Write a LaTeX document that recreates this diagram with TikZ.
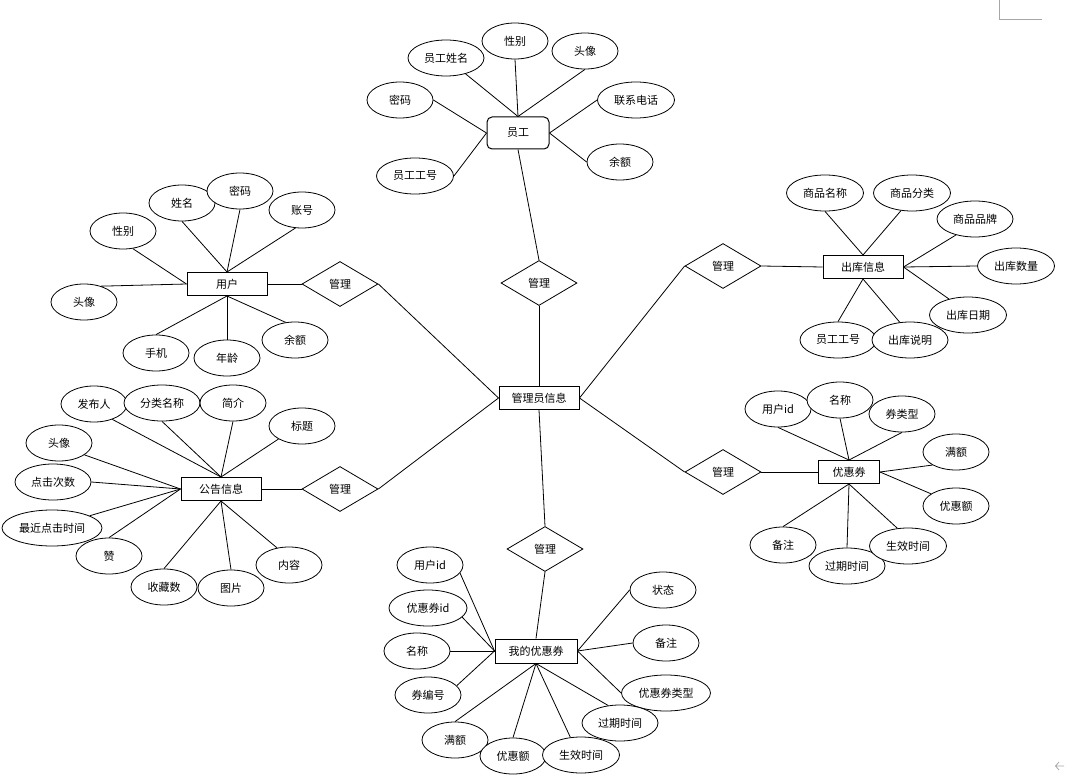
\documentclass[tikz,border=0pt]{standalone}
\usepackage{fontspec}
\setmainfont{Noto Sans CJK SC}
\usetikzlibrary{shapes.geometric}
\begin{document}
\begin{tikzpicture}
[   x=1pt,y=-1pt,line width=0.8pt,
    every node/.style={font=\fontsize{11}{13}\selectfont},
    ent/.style={draw=black,fill=white,line width=1pt,rectangle,minimum width=#1,minimum height=23,inner sep=0pt},
    ent/.default=80,
    attr/.style={draw=black,fill=white,ellipse,minimum width=#1,minimum height=36,inner sep=0pt},
    attr/.default=66,
    rel/.style={draw=black,fill=white,diamond,minimum width=76,minimum height=45,inner sep=0pt},
]
    \useasboundingbox (0,0) rectangle (1065,778);
    % entities
    \node[ent] (admin) at (539,398) {管理员信息};
    \node[ent=62,minimum height=32,rounded corners=5pt] (yg) at (518,133) {员工};
    \node[ent] (yh) at (227,284) {用户};
    \node[ent] (gg) at (221,489) {公告信息};
    \node[ent] (ck) at (863,267) {出库信息};
    \node[ent=61] (yhq) at (849,472) {优惠券};
    \node[ent=82,minimum height=24] (wd) at (536,651) {我的优惠券};
    % relations
    \node[rel] (r-yg) at (539,283) {管理};
    \node[rel] (r-yh) at (340,284) {管理};
    \node[rel] (r-gg) at (340,489) {管理};
    \node[rel] (r-ck) at (723,266) {管理};
    \node[rel] (r-yhq) at (723,472) {管理};
    \node[rel] (r-wd) at (545,549) {管理};
    \draw (yg.south) -- (r-yg.north);
    \draw (r-yg.south) -- (admin.north);
    \draw (yh.east) -- (r-yh.west);
    \draw (r-yh.east) -- (admin.west);
    \draw (gg.east) -- (r-gg.west);
    \draw (r-gg.east) -- (admin.west);
    \draw (admin.east) -- (r-ck.west);
    \draw (r-ck.east) -- (ck.west);
    \draw (admin.east) -- (r-yhq.west);
    \draw (r-yhq.east) -- (yhq.west);
    \draw (admin.south) -- (r-wd.north);
    \draw (r-wd.south) -- (wd.north);
    % attributes: name/position/text/width/own anchor/entity anchor
    \foreach \nm/\pos/\txt/\w/\sa/\anc in
    {   yg-1/{446,58}/员工姓名/76/-39/north,
        yg-2/{515,41}/性别/66/south/north,
        yg-3/{585,51}/头像/66/south/north,
        yg-4/{400,100}/密码/66/east/west,
        yg-5/{415,176}/员工工号/77/east/west,
        yg-6/{636,100}/联系电话/77/west/east,
        yg-7/{620,162}/余额/66/west/east}
    {   \node[attr=\w] (\nm) at (\pos) {\txt};
        \draw (\nm.\sa) -- (yg.\anc);
    }
    \foreach \nm/\pos/\txt/\w/\sa/\anc in
    {   yh-1/{182,203}/姓名/66/south/north,
        yh-2/{240,191}/密码/66/south/north,
        yh-3/{302,210}/账号/66/-110/north,
        yh-4/{123,231}/性别/66/-61/west,
        yh-5/{84,302}/头像/66/43/west,
        yh-6/{156,353}/手机/66/north/south,
        yh-7/{227,358}/年龄/66/north/south,
        yh-8/{295,340}/余额/66/118/south}
    {   \node[attr=\w] (\nm) at (\pos) {\txt};
        \draw (\nm.\sa) -- (yh.\anc);
    }
    \foreach \nm/\pos/\txt/\w/\sa/\anc in
    {   gg-1/{94,404}/发布人/66/-40/north,
        gg-2/{162,403}/分类名称/76/south/north,
        gg-3/{233,403}/简介/66/south/north,
        gg-4/{302,426}/标题/66/-151/north,
        gg-5/{59,443}/头像/66/-25/west,
        gg-6/{53,482}/点击次数/76/east/west,
        gg-7/{52,528}/最近点击时间/100/18/west,
        gg-8/{109,556}/赞/66/north/west,
        gg-9/{164,587}/收藏数/66/north/south,
        gg-10/{231,588}/图片/66/north/south,
        gg-11/{289,565}/内容/66/125/south}
    {   \node[attr=\w] (\nm) at (\pos) {\txt};
        \draw (\nm.\sa) -- (gg.\anc);
    }
    \foreach \nm/\pos/\txt/\w/\sa/\anc in
    {   ck-1/{825,193}/商品名称/77/south/north,
        ck-2/{912,193}/商品分类/77/-122/north,
        ck-3/{975,219}/商品品牌/76/-140/east,
        ck-4/{1016,266}/出库数量/77/west/east,
        ck-5/{968,315}/出库日期/77/140/east,
        ck-6/{838,340}/员工工号/76/north/south,
        ck-7/{910,340}/出库说明/76/120/south}
    {   \node[attr=\w] (\nm) at (\pos) {\txt};
        \draw (\nm.\sa) -- (ck.\anc);
    }
    \foreach \nm/\pos/\txt/\w/\sa/\anc in
    {   yhq-1/{778,409}/用户id/66/south/north,
        yhq-2/{840,400}/名称/66/south/north,
        yhq-3/{902,414}/券类型/66/south/north,
        yhq-4/{956,452}/满额/66/-151/east,
        yhq-5/{956,506}/优惠额/66/154/east,
        yhq-6/{783,545}/备注/66/north/south,
        yhq-7/{847,566}/过期时间/76/north/south,
        yhq-8/{908,546}/生效时间/77/121/south}
    {   \node[attr=\w] (\nm) at (\pos) {\txt};
        \draw (\nm.\sa) -- (yhq.\anc);
    }
    \foreach \nm/\pos/\txt/\w/\sa/\anc in
    {   wd-1/{430,565}/用户id/66/-15/west,
        wd-2/{428,608}/优惠券id/78/-15/west,
        wd-3/{417,651}/名称/66/east/west,
        wd-4/{428,695}/券编号/66/18/west,
        wd-5/{455,740}/满额/66/north/south,
        wd-6/{513,756}/优惠额/66/north/south,
        wd-7/{581,755}/生效时间/77/121/south,
        wd-9/{666,693}/优惠券类型/89/west/east,
        wd-8/{620,723}/过期时间/76/124/south,
        wd-10/{666,643}/备注/66/west/east,
        wd-11/{663,590}/状态/66/west/east}
    {   \node[attr=\w] (\nm) at (\pos) {\txt};
        \draw (\nm.\sa) -- (wd.\anc);
    }
    % page marks
    \draw[gray!70,line width=1pt] (999,0) -- (999,20) -- (1042,20);
    \draw[gray!70] (1059,762) -- (1055.5,766) -- (1059,770) (1055.5,766) -- (1064,766);
\end{tikzpicture}
\end{document}
